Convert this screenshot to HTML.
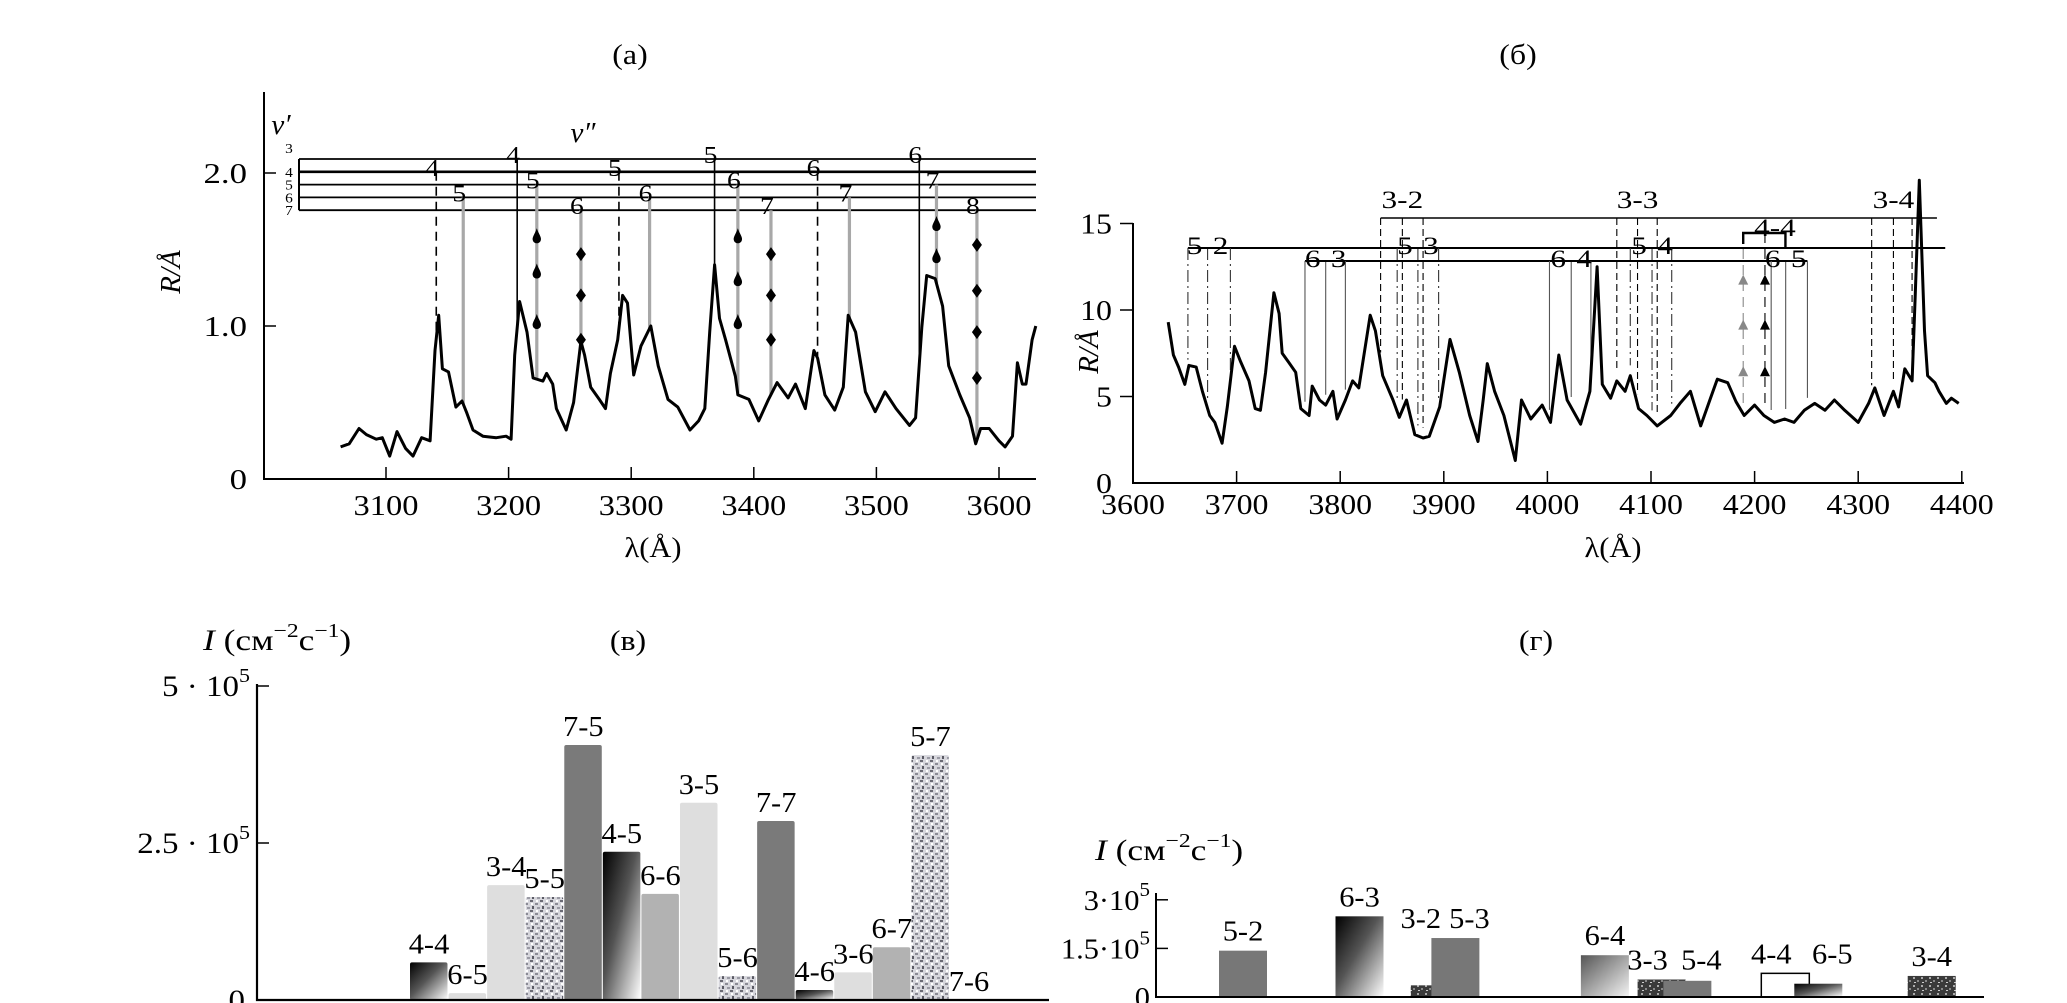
<!DOCTYPE html>
<html><head><meta charset="utf-8">
<style>
html,body{margin:0;padding:0;background:#fff;}
svg{display:block;}
text{font-family:"Liberation Serif",serif;fill:#000;}
</style></head>
<body>
<svg id="fig" width="2067" height="1003" viewBox="0 0 2067 1003" xmlns="http://www.w3.org/2000/svg">
<defs>
<linearGradient id="gDark" x1="0" y1="0" x2="1" y2="1"><stop offset="0" stop-color="#000"/><stop offset="0.45" stop-color="#555"/><stop offset="1" stop-color="#fff"/></linearGradient>
<linearGradient id="gLight" x1="0" y1="0" x2="1" y2="1"><stop offset="0" stop-color="#555"/><stop offset="1" stop-color="#f4f4f4"/></linearGradient>
<pattern id="speck" width="10" height="10" patternUnits="userSpaceOnUse">
<rect width="10" height="10" fill="#d6d6dc"/>
<rect x="0" y="0" width="3" height="2" fill="#6a6a74"/><rect x="5" y="3" width="3" height="2" fill="#8a8a94"/>
<rect x="2" y="6" width="2" height="3" fill="#5a5a64"/><rect x="7" y="7" width="3" height="2" fill="#9a9aa4"/>
<rect x="6" y="0" width="2" height="2" fill="#fff"/><rect x="1" y="3" width="2" height="2" fill="#fff"/>
</pattern>
<pattern id="speckDark" width="8" height="8" patternUnits="userSpaceOnUse">
<rect width="8" height="8" fill="#3a3a3a"/>
<rect x="1" y="1" width="2" height="2" fill="#aaa"/><rect x="5" y="4" width="2" height="2" fill="#888"/><rect x="2" y="6" width="2" height="1" fill="#ccc"/>
</pattern>
</defs>
<g id="root"></g>
</svg>
<script>
// ---------- DATA: panel (a) ----------
const specA_lambda=[3063,3070,3078,3084,3092,3097,3103,3109,3116,3122,3129,3136,3140,3143,3146,3151,3157,3162,3166,3171,3179,3190,3198,3202,3205,3209,3215,3220,3228,3231,3236,3239,3247,3253,3259,3262,3267,3274,3279,3283,3289,3293,3297,3302,3308,3316,3322,3330,3338,3348,3355,3360,3364,3368,3372,3377,3385,3387,3396,3404,3412,3419,3428,3434,3442,3449,3452,3458,3466,3473,3477,3483,3491,3499,3507,3516,3527,3532,3537,3541,3548,3554,3559,3568,3576,3581,3585,3592,3600,3605,3611,3615,3619,3622,3627,3630];
const specA_R=[0.21,0.23,0.33,0.29,0.26,0.27,0.15,0.31,0.20,0.15,0.27,0.25,0.84,1.07,0.72,0.70,0.47,0.51,0.43,0.32,0.28,0.27,0.28,0.26,0.81,1.16,0.96,0.66,0.64,0.69,0.62,0.46,0.32,0.50,0.90,0.81,0.60,0.52,0.46,0.69,0.91,1.20,1.15,0.68,0.87,1.00,0.74,0.52,0.47,0.32,0.38,0.46,0.96,1.40,1.05,0.91,0.67,0.55,0.52,0.38,0.52,0.63,0.53,0.62,0.46,0.84,0.79,0.55,0.45,0.60,1.07,0.96,0.57,0.44,0.57,0.46,0.35,0.40,0.99,1.33,1.31,1.13,0.74,0.55,0.40,0.23,0.33,0.33,0.25,0.21,0.28,0.76,0.62,0.62,0.91,1.00];
const xTicksA=[3100,3200,3300,3400,3500,3600];
const yTicksA=[0,1.0,2.0];
const yTickLabelsA=["0","1.0","2.0"];
const levelsA=[3,4,5,6,7];
const transA_lambda=[3141,3163,3207,3223,3259,3290,3315,3368,3387,3414,3452,3478,3535,3549,3582];
const transA_level=[4,6,3,5,7,4,6,3,5,7,4,6,3,5,7];
const transA_style=["dash","gray","solid","gray","gray","dash","gray","solid","gray","gray","dash","gray","solid","gray","gray"];
const transA_label=["4","5","4","5","6","5","6","5","6","7","6","7","6","7","8"];
const dropA_lambda=[3223,3223,3223,3387,3387,3387,3549,3549];
const dropA_R=[1.58,1.35,1.02,1.58,1.30,1.02,1.66,1.45];
const diamA_lambda=[3259,3259,3259,3414,3414,3414,3582,3582,3582,3582];
const diamA_R=[1.47,1.20,0.91,1.47,1.20,0.91,1.53,1.23,0.96,0.66];

// ---------- DATA: panel (б) ----------
const specB_lambda=[3634,3639,3644,3650,3654,3661,3667,3674,3679,3686,3691,3698,3704,3712,3718,3723,3728,3736,3741,3744,3750,3757,3762,3770,3773,3780,3786,3793,3797,3805,3812,3818,3829,3834,3841,3851,3857,3864,3872,3880,3886,3896,3906,3915,3925,3933,3938,3942,3949,3958,3969,3975,3984,3995,4003,4011,4019,4032,4041,4048,4053,4061,4067,4075,4080,4088,4096,4106,4119,4128,4138,4148,4158,4164,4174,4182,4190,4200,4209,4219,4229,4238,4248,4258,4268,4277,4287,4300,4310,4316,4325,4334,4339,4345,4352,4355,4359,4364,4367,4374,4378,4385,4390,4397];
const specB_R=[9.3,7.4,6.7,5.7,6.8,6.7,5.3,3.9,3.5,2.3,4.4,7.9,7.0,5.9,4.3,4.2,6.4,11.0,9.8,7.5,7.0,6.4,4.3,3.9,5.6,4.8,4.5,5.3,3.7,4.8,5.9,5.5,9.7,8.8,6.2,4.8,3.8,4.8,2.8,2.6,2.7,4.4,8.3,6.4,3.9,2.4,4.8,6.9,5.3,3.9,1.3,4.8,3.7,4.5,3.5,7.4,4.8,3.4,5.3,12.5,5.7,4.9,5.9,5.3,6.2,4.3,3.9,3.3,3.9,4.6,5.3,3.3,5.0,6.0,5.8,4.7,3.9,4.5,3.9,3.5,3.7,3.5,4.2,4.6,4.2,4.8,4.2,3.5,4.6,5.5,3.9,5.3,4.4,6.6,5.9,10.8,17.5,8.8,6.2,5.8,5.3,4.6,4.9,4.6];
const xTicksB=[3600,3700,3800,3900,4000,4100,4200,4300,4400];
const yTicksB=[0,5,10,15];
const bandNamesB=["5-2","6-3","3-2","5-3","6-4","3-3","5-4","4-4","6-5","3-4"];
const bandRowB=["B","C","A","B","C","A","B","Q","C","A"];
const bandStyleB=["dashdot","solid","dash","dashdot","solid","dash","dashdot","tri","solid","dash"];
const bandLinesB=[[3653,3672,3694],[3766,3786,3805],[3839,3860,3880],[3855,3875,3895],[4002,4023,4042],[4067,4087,4106],[4080,4101,4120],[4189,4210],[4216,4230,4251],[4313,4334,4352]];
const triB_R=[11.7,9.1,6.4];

// ---------- DATA: panel (в) ----------
const barsC_names=["4-4","6-5","3-4","5-5","7-5","4-5","6-6","3-5","5-6","7-7","4-6","3-6","6-7","5-7","7-6"];
const barsC_values=[0.60,0.11,1.83,1.64,4.06,2.36,1.69,3.14,0.38,2.85,0.16,0.44,0.84,3.90,0];
const barsC_fill=["gDark","light","light","speck","dark","gDark","mid","light","speck","dark","gDark","light","mid","speck","none"];
const yTicksC=[0,2.5,5];
const yTickLabelsC=["0","2.5 · 10","5 · 10"];

// ---------- DATA: panel (г) ----------
const barsD_names=["5-2","6-3","3-2","5-3","6-4","3-3","5-4","4-4","6-5","3-4"];
const barsD_lambda=[3674,3787,3860,3880,4025,4080,4105,4200,4232,4342];
const barsD_values=[1.43,2.49,0.36,1.82,1.29,0.54,0.50,0.73,0.41,0.65];
const barsD_fill=["dmid","gDark","speckDark","dmid","gLight","speckDark","dmid","white","gDark","speckDark"];
const yTicksD=[0,1.5,3];
const yTickLabelsD=["0","1.5·10","3·10"];

// ---------- helpers ----------
const NS="http://www.w3.org/2000/svg";
const root=document.getElementById('root');
function el(tag,attrs,parent){const e=document.createElementNS(NS,tag);for(const k in attrs)e.setAttribute(k,attrs[k]);(parent||root).appendChild(e);return e;}
function txt(x,y,s,size,anchor,sx,parent){const t=el('text',{transform:`translate(${x},${y}) scale(${sx||1.15},1)`,'font-size':size,'text-anchor':anchor||'middle'},parent);t.textContent=s;return t;}
function interp(xs,ys,x){if(x<=xs[0])return ys[0];for(let i=1;i<xs.length;i++){if(x<=xs[i]){const f=(x-xs[i-1])/(xs[i]-xs[i-1]);return ys[i-1]+f*(ys[i]-ys[i-1]);}}return ys[ys.length-1];}

// ===== Panel (a) =====
const xA=l=>386+(l-3100)*1.226;
const yA=r=>479-r*153;
const levelY=v=>159+(v-3)*12.8;
const gA=el('g',{});


let t=txt(630,64,"(a)",29,'middle',1.1,gA);

let ax=el('path',{d:`M264 92 V479 H1036`,stroke:'#000','stroke-width':2,fill:'none'},gA);

xTicksA.forEach(v=>{el('line',{x1:xA(v),x2:xA(v),y1:479,y2:467,stroke:'#000','stroke-width':1.5},gA);
 const tl=txt(xA(v),515,String(v),29,'middle',1.12,gA);
 });
yTicksA.forEach((v,i)=>{if(v>0)el('line',{x1:264,x2:276,y1:yA(v),y2:yA(v),stroke:'#000','stroke-width':1.5},gA);
 const tl=txt(247,yA(v)+10,yTickLabelsA[i],29,'end',1.2,gA);
 });
t=txt(653,557,"λ(Å)",29,'middle',1.05,gA);
t=el('text',{transform:'translate(180,272) rotate(-90)','font-size':29,'font-style':'italic','text-anchor':'middle'},gA);t.textContent="R/Å";

levelsA.forEach(v=>{const ln=el('line',{x1:299,x2:1036,y1:levelY(v),y2:levelY(v),stroke:'#000','stroke-width':v===4?2.6:1.8},gA);
 
 txt(289,levelY(v)+ (v===3?-6:5),String(v),14,'middle',1.1,gA);});
el('line',{x1:299,x2:299,y1:levelY(3),y2:levelY(7),stroke:'#000','stroke-width':2},gA);
t=el('text',{x:281,y:134,'font-size':29,'font-style':'italic','text-anchor':'middle'},gA);t.textContent="ν′";

t=el('text',{x:583,y:142,'font-size':29,'font-style':'italic','text-anchor':'middle'},gA);t.textContent="ν″";

transA_lambda.forEach((l,i)=>{const x=xA(l),y0=levelY(transA_level[i]),y1=yA(interp(specA_lambda,specA_R,l));
 const st=transA_style[i];
 const a={x1:x,x2:x,y1:y0,y2:y1,stroke:st==='gray'?'#a8a8a8':'#000','stroke-width':st==='gray'?3.2:1.6};
 if(st==='dash')a['stroke-dasharray']='9 6';
 const ln=el('line',a,gA);
 const lb=txt(x-4,y0+4,transA_label[i],24,'middle',1.15,gA);});
dropA_lambda.forEach((l,i)=>{const x=xA(l),y=yA(dropA_R[i]);
 const d=el('path',{d:`M${x} ${y-9} C${x+2} ${y-3},${x+5} ${y},${x+4} ${y+3} C${x+3} ${y+7},${x-3} ${y+7},${x-4} ${y+3} C${x-5} ${y},${x-2} ${y-3},${x} ${y-9}Z`,fill:'#000'},gA);
 });
diamA_lambda.forEach((l,i)=>{const x=xA(l),y=yA(diamA_R[i]);
 const d=el('path',{d:`M${x} ${y-7} L${x+5} ${y} L${x} ${y+7} L${x-5} ${y}Z`,fill:'#000'},gA);
 });
let sp=el('polyline',{points:specA_lambda.map((l,i)=>xA(l).toFixed(1)+','+yA(specA_R[i]).toFixed(1)).join(' '),fill:'none',stroke:'#000','stroke-width':3,'stroke-linejoin':'round'},gA);


// ===== Panel (б) =====
const xB=l=>1133+(l-3600)*1.036;
const yB=r=>483-r*17.3;
const rowY={A:218,B:248,C:261,Q:233};
const gB=el('g',{});


t=txt(1518,64,"(б)",29,'middle',1.1,gB);
ax=el('path',{d:`M1133 223 V483 H1964`,stroke:'#000','stroke-width':2,fill:'none'},gB);

xTicksB.forEach(v=>{el('line',{x1:xB(v),x2:xB(v),y1:483,y2:471,stroke:'#000','stroke-width':1.5},gB);
 const tl=txt(xB(v),514,String(v),29,'middle',1.1,gB);});
yTicksB.forEach(v=>{if(v>0)el('line',{x1:1133,x2:1120,y1:yB(v),y2:yB(v),stroke:'#000','stroke-width':1.5},gB);
 const tl=txt(1112,yB(v)+10,String(v),29,'end',1.1,gB);});
t=txt(1613,557,"λ(Å)",29,'middle',1.05,gB);
t=el('text',{transform:'translate(1098,352) rotate(-90)','font-size':29,'font-style':'italic','text-anchor':'middle'},gB);t.textContent="R/Å";

const rowSpan={A:[3839,4376],B:[3653,4384],C:[3766,4251]};
Object.keys(rowSpan).forEach(k=>{const ln=el('line',{x1:xB(rowSpan[k][0]),x2:xB(rowSpan[k][1]),y1:rowY[k],y2:rowY[k],stroke:'#000','stroke-width':k==='A'?1.4:2},gB);
 });
bandNamesB.forEach((nm,i)=>{const ls=bandLinesB[i],st=bandStyleB[i],ry=rowY[bandRowB[i]];
 ls.forEach((l,j)=>{const x=xB(l),y1=yB(interp(specB_lambda,specB_R,l)+0.6);
  const a={x1:x,x2:x,y1:ry,y2:y1,stroke:'#000','stroke-width':1.1};
  if(st==='dashdot'){a['stroke-dasharray']='12 4 2 4';a.stroke='#333';}
  if(st==='dash'){a['stroke-dasharray']='7 4';}
  if(st==='solid'){a.stroke='#555';}
  if(st==='tri'){a['stroke-dasharray']='10 6';a.stroke=j===0?'#888':'#000';}
  const ln=el('line',a,gB);
  if(st==='tri'){triB_R.forEach(r=>{const yy=yB(r);const tr=el('path',{d:`M${x} ${yy-6} L${x+5} ${yy+4} L${x-5} ${yy+4}Z`,fill:j===0?'#888':'#000'},gB);
   });}});
 if(st==='tri'){el('path',{d:`M${xB(ls[0])} 244 V${ry} H${xB(4251)-22} V248`,stroke:'#000','stroke-width':2.4,fill:'none'},gB);}
 const cx=xB(ls[Math.min(1,ls.length-1)])+(st==='tri'?10:0);
 const ly=bandRowB[i]==='A'?ry-10:(bandRowB[i]==='Q'?ry+3:ry+6);
 const lb=txt(cx,ly,nm,25,'middle',1.25,gB);});
sp=el('polyline',{points:specB_lambda.map((l,i)=>xB(l).toFixed(1)+','+yB(specB_R[i]).toFixed(1)).join(' '),fill:'none',stroke:'#000','stroke-width':3,'stroke-linejoin':'round'},gB);


// ===== Panel (в) =====
const yC=v=>1000-v*62.8;
const xC=i=>410+i*38.57;
const fillMap={gDark:'url(#gDark)',gLight:'url(#gLight)',light:'#dedede',mid:'#b2b2b2',dark:'#7a7a7a',dmid:'#777',speck:'url(#speck)',speckDark:'url(#speckDark)',white:'#fff',none:'none'};
const gC=el('g',{});


t=txt(628,650,"(в)",29,'middle',1.1,gC);
function unitLabel(x,y,parent){const tt=el('text',{transform:`translate(${x},${y}) scale(1.18,1)`,'font-size':30},parent);
 tt.innerHTML='<tspan font-style="italic">I</tspan> (см<tspan dy="-13" font-size="20">−2</tspan><tspan dy="13">с</tspan><tspan dy="-13" font-size="20">−1</tspan><tspan dy="13">)</tspan>';return tt;}
t=unitLabel(203,650,gC);
barsC_names.forEach((nm,i)=>{const v=barsC_values[i];
 if(v>0){const r=el('rect',{x:xC(i),y:yC(v),width:37.5,height:1000-yC(v),fill:fillMap[barsC_fill[i]],rx:2},gC);
  }
 const lb=txt(xC(i)+19,yC(v)-9,nm,29,'middle',1.05,gC);});
ax=el('path',{d:`M257 684 V1000 H1049`,stroke:'#000','stroke-width':2.2,fill:'none'},gC);

yTicksC.forEach((v,i)=>{if(v>0)el('line',{x1:257,x2:269,y1:yC(v),y2:yC(v),stroke:'#000','stroke-width':1.5},gC);
 const tl=el('text',{transform:`translate(250,${yC(v)+10}) scale(1.1,1)`,'font-size':30,'text-anchor':'end'},gC);
 if(v>0)tl.innerHTML=yTickLabelsC[i]+'<tspan dy="-14" font-size="20">5</tspan>';else {tl.textContent=yTickLabelsC[i];tl.setAttribute('transform',`translate(245,${yC(v)+10}) scale(1.1,1)`);}
 });

// ===== Panel (г) =====
const yD=v=>997-v*32.4;
const xD=l=>1243+(l-3674)*1.031;
const gD=el('g',{});


t=txt(1536,650,"(г)",29,'middle',1.1,gD);
t=unitLabel(1095,860,gD);
barsD_names.forEach((nm,i)=>{const v=barsD_values[i],cx=xD(barsD_lambda[i]);
 const a={x:cx-24,y:yD(v),width:48,height:997-yD(v),fill:fillMap[barsD_fill[i]]};
 if(barsD_fill[i]==='white'){a.stroke='#000';a['stroke-width']=1.5;}
 const r=el('rect',a,gD);
 let top=v,shift=0;
 barsD_lambda.forEach((l2,j)=>{const d=xD(l2)-cx;if(j!==i&&Math.abs(d)<40){top=Math.max(top,barsD_values[j]);shift=d>0?-14:14;}});
 const lb=txt(cx+shift,yD(top)-10,nm,29,'middle',1.05,gD);});
ax=el('path',{d:`M1156 893 V997 H1984`,stroke:'#000','stroke-width':2,fill:'none'},gD);

yTicksD.forEach((v,i)=>{if(v>0)el('line',{x1:1156,x2:1168,y1:yD(v),y2:yD(v),stroke:'#000','stroke-width':1.5},gD);
 const tl=el('text',{transform:`translate(1150,${yD(v)+10}) scale(1.05,1)`,'font-size':29,'text-anchor':'end'},gD);
 if(v>0)tl.innerHTML=yTickLabelsD[i]+'<tspan dy="-14" font-size="20">5</tspan>';else tl.textContent=yTickLabelsD[i];
 });
</script>
</body></html>
